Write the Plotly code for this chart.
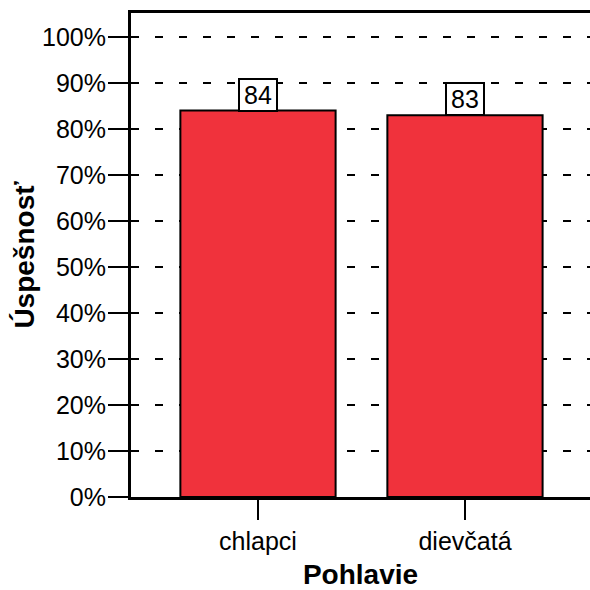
import plotly.graph_objects as go

categories = ["chlapci", "dievčatá"]
values = [84, 83]
value_labels = ["84", "83"]
y_tick_vals = [0, 10, 20, 30, 40, 50, 60, 70, 80, 90, 100]
y_tick_text = [f"{v}%" for v in y_tick_vals]

FONT = "Liberation Sans, Arial, sans-serif"

fig = go.Figure()
fig.add_trace(go.Bar(
    x=categories, y=values, width=0.75,
    marker=dict(color="#F0323C", line=dict(color="black", width=2)),
    hoverinfo="skip",
))

for c, v, t in zip(categories, values, value_labels):
    fig.add_annotation(
        x=c, y=v, text=t, showarrow=False, yanchor="bottom", yshift=-1,
        font=dict(family=FONT, size=25, color="black"),
        width=34, height=28,
        bgcolor="white", bordercolor="black", borderwidth=2, borderpad=1,
    )

fig.update_layout(
    width=590, height=590,
    margin=dict(l=131, r=0, t=13, b=93),
    paper_bgcolor="white", plot_bgcolor="white",
    showlegend=False,
    font=dict(family=FONT, size=25, color="black"),
    xaxis=dict(
        range=[-0.6135, 1.604],
        showline=True, linecolor="black", linewidth=3, mirror=True,
        ticks="outside", ticklen=20, tickwidth=2, tickcolor="black",
        showgrid=False, zeroline=False,
        tickfont=dict(family=FONT, size=25),
        title=dict(text="<b>Pohlavie</b>", font=dict(family=FONT, size=28), standoff=12),
    ),
    yaxis=dict(
        range=[0, 105.2],
        tickvals=y_tick_vals, ticktext=y_tick_text,
        showline=True, linecolor="black", linewidth=3, mirror=False,
        ticks="outside", ticklen=20, tickwidth=2, tickcolor="black",
        ticklabelstandoff=-3,
        showgrid=True, gridcolor="black", gridwidth=2, griddash="8px,16px",
        zeroline=False,
        tickfont=dict(family=FONT, size=25),
        title=dict(text="<b>Úspešnosť</b>", font=dict(family=FONT, size=28), standoff=0),
    ),
)

fig.write_html("out.html")
